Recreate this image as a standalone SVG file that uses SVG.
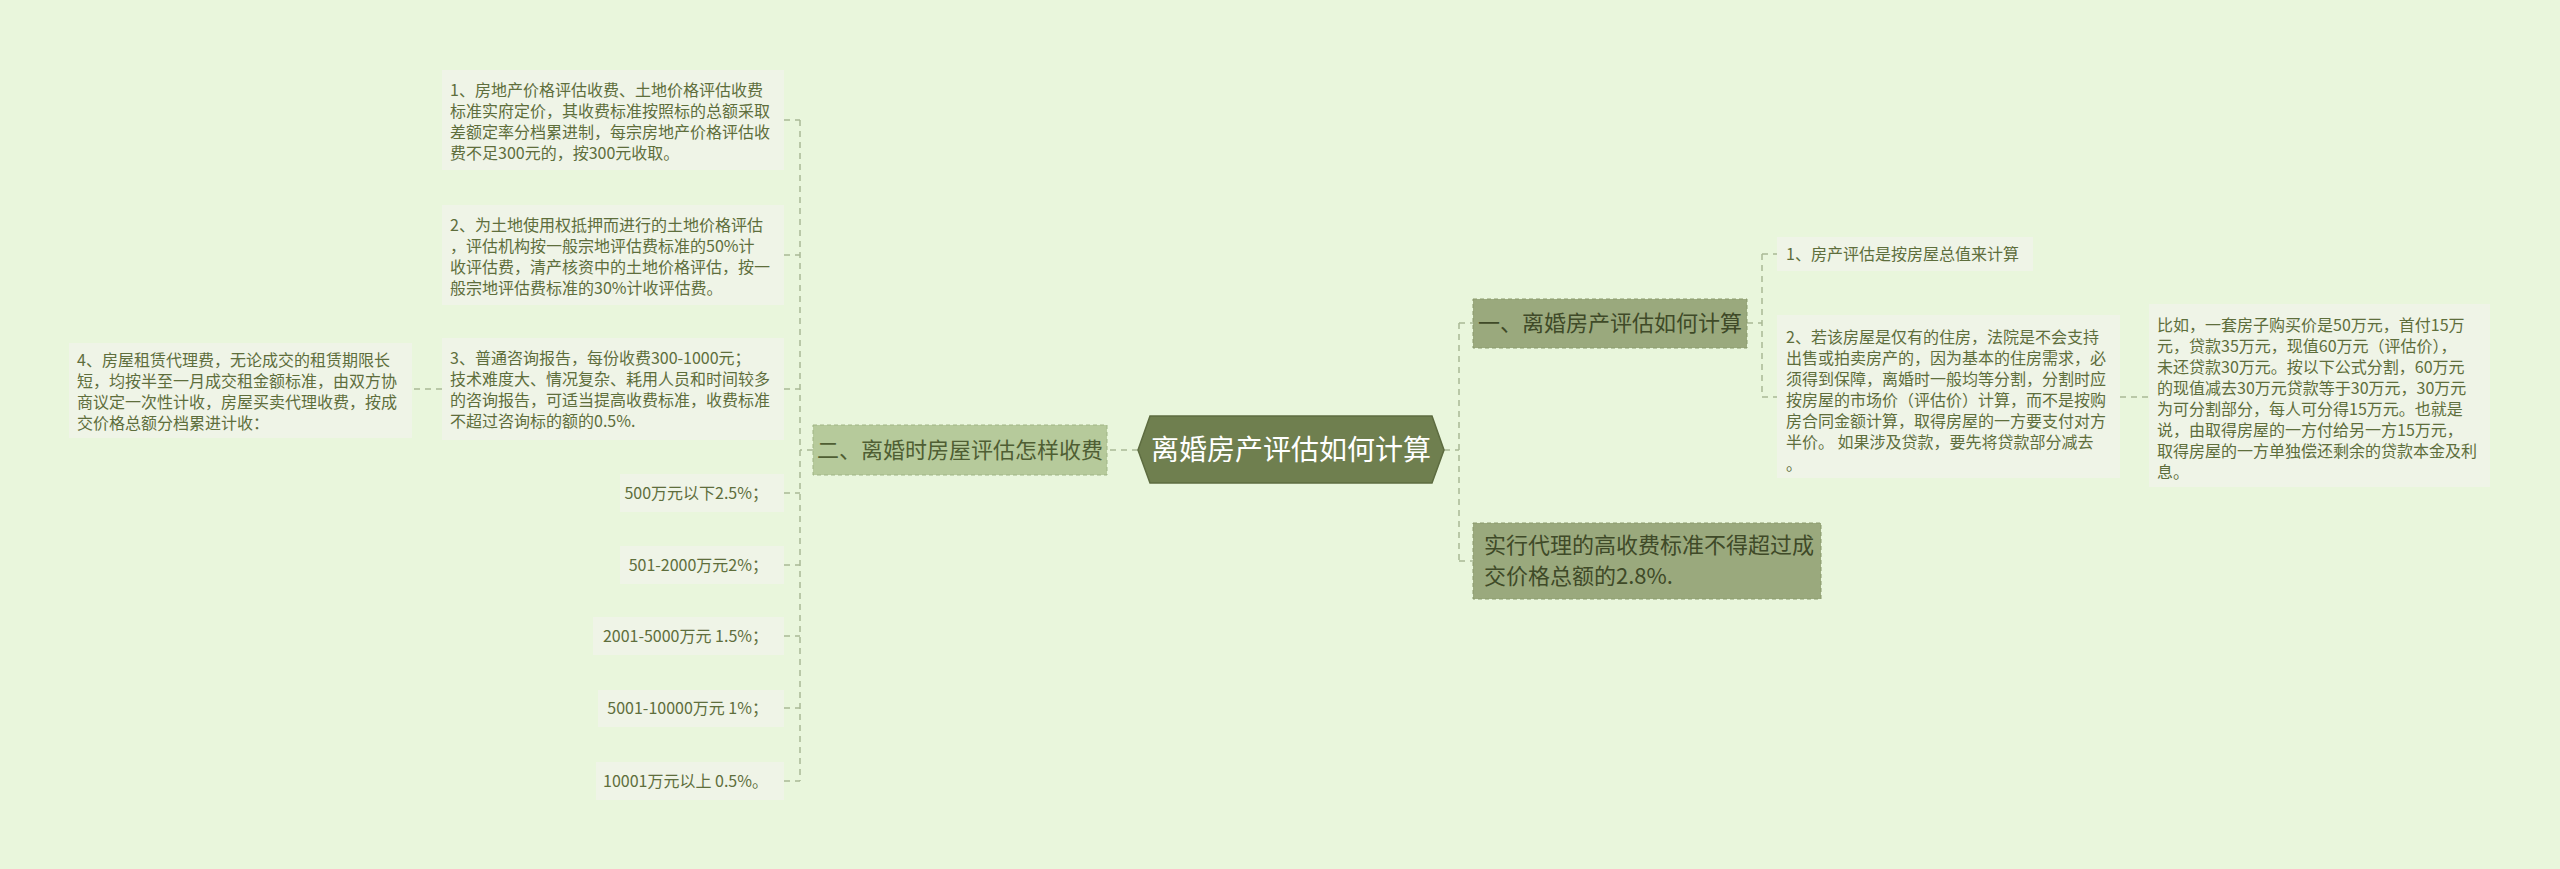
<svg xmlns="http://www.w3.org/2000/svg" width="2560" height="869" viewBox="0 0 2560 869">
<style>
text{font-family:"Noto Sans CJK SC","Liberation Sans",sans-serif}
.leaf{fill:#eff4e7}
.lt{font-size:16px;fill:#5e6e3c}
.conn{fill:none;stroke:#a9b995;stroke-width:1.5;stroke-dasharray:6 5}
</style>
<rect width="2560" height="869" fill="#e9f6dc"/>
<g id="connectors" class="conn">
<path d="M1138 450 H1107"/>
<path d="M813 450 H800 M800 120 V781 M784 120 H800 M784 255 H800 M784 389 H800 M784 493 H800 M784 565 H800 M784 636 H800 M784 708 H800 M784 781 H800"/>
<path d="M442 389 H412"/>
<path d="M1444 450 H1459 M1459 323 V561 M1459 323 H1473 M1459 561 H1473"/>
<path d="M1747 323 H1762 M1762 254 V397 M1762 254 H1777 M1762 397 H1777"/>
<path d="M2120 397 H2149"/>
</g>
<g id="center">
<polygon points="1150,416 1432,416 1444,450 1432,483 1150,483 1138,450" fill="#6f7f4f" stroke="#5d6c40" stroke-width="1.5"/>
<text x="1291" y="460" font-size="28" fill="#ffffff" text-anchor="middle">离婚房产评估如何计算</text>
</g>
<g id="n2">
<rect x="813" y="425" width="294" height="50" fill="#b6ca9b" stroke="#a0b585" stroke-dasharray="4 3"/>
<text x="960" y="458" font-size="22" fill="#4f5e33" text-anchor="middle">二、离婚时房屋评估怎样收费</text>
</g>
<g id="n1">
<rect x="1473" y="299" width="274" height="49" fill="#9aa97d" stroke="#8a9a6c" stroke-dasharray="4 3"/>
<text x="1610" y="331" font-size="22" fill="#3f4a28" text-anchor="middle">一、离婚房产评估如何计算</text>
</g>
<g id="n3">
<rect x="1473" y="523" width="348" height="76" fill="#9aa97d" stroke="#8a9a6c" stroke-dasharray="4 3"/>
<text font-size="22" fill="#3f4a28"><tspan x="1484" y="553">实行代理的高收费标准不得超过成</tspan><tspan x="1484" y="584">交价格总额的2.8%.</tspan></text>
</g>
<g id="r1"><rect class="leaf" x="1777" y="237" width="256" height="34"/>
<text class="lt" x="1786" y="260">1、房产评估是按房屋总值来计算</text></g>
<g id="r2"><rect class="leaf" x="1777" y="315" width="343" height="163"/>
<text class="lt"><tspan x="1786" y="343">2、若该房屋是仅有的住房，法院是不会支持</tspan><tspan x="1786" y="364">出售或拍卖房产的，因为基本的住房需求，必</tspan><tspan x="1786" y="385">须得到保障，离婚时一般均等分割，分割时应</tspan><tspan x="1786" y="406">按房屋的市场价（评估价）计算，而不是按购</tspan><tspan x="1786" y="427">房合同金额计算，取得房屋的一方要支付对方</tspan><tspan x="1786" y="448">半价。 如果涉及贷款，要先将贷款部分减去</tspan><tspan x="1786" y="470">。</tspan></text></g>
<g id="r3"><rect class="leaf" x="2149" y="304" width="341" height="183"/>
<text class="lt"><tspan x="2157" y="331">比如，一套房子购买价是50万元，首付15万</tspan><tspan x="2157" y="352">元，贷款35万元，现值60万元（评估价），</tspan><tspan x="2157" y="373">未还贷款30万元。按以下公式分割，60万元</tspan><tspan x="2157" y="394">的现值减去30万元贷款等于30万元，30万元</tspan><tspan x="2157" y="415">为可分割部分，每人可分得15万元。也就是</tspan><tspan x="2157" y="436">说，由取得房屋的一方付给另一方15万元，</tspan><tspan x="2157" y="457">取得房屋的一方单独偿还剩余的贷款本金及利</tspan><tspan x="2157" y="478">息。</tspan></text></g>
<g id="l1"><rect class="leaf" x="442" y="70" width="342" height="100"/>
<text class="lt"><tspan x="450" y="96">1、房地产价格评估收费、土地价格评估收费</tspan><tspan x="450" y="117">标准实府定价，其收费标准按照标的总额采取</tspan><tspan x="450" y="138">差额定率分档累进制，每宗房地产价格评估收</tspan><tspan x="450" y="159">费不足300元的，按300元收取。</tspan></text></g>
<g id="l2"><rect class="leaf" x="442" y="205" width="342" height="100"/>
<text class="lt"><tspan x="450" y="231">2、为土地使用权抵押而进行的土地价格评估</tspan><tspan x="450" y="252">，评估机构按一般宗地评估费标准的50%计</tspan><tspan x="450" y="273">收评估费，清产核资中的土地价格评估，按一</tspan><tspan x="450" y="294">般宗地评估费标准的30%计收评估费。</tspan></text></g>
<g id="l3"><rect class="leaf" x="442" y="338" width="342" height="102"/>
<text class="lt"><tspan x="450" y="364">3、普通咨询报告，每份收费300-1000元；</tspan><tspan x="450" y="385">技术难度大、情况复杂、耗用人员和时间较多</tspan><tspan x="450" y="406">的咨询报告，可适当提高收费标准，收费标准</tspan><tspan x="450" y="427">不超过咨询标的额的0.5%.</tspan></text></g>
<g id="l4"><rect class="leaf" x="69" y="343" width="343" height="95"/>
<text class="lt"><tspan x="77" y="366">4、房屋租赁代理费，无论成交的租赁期限长</tspan><tspan x="77" y="387">短，均按半至一月成交租金额标准，由双方协</tspan><tspan x="77" y="408">商议定一次性计收，房屋买卖代理收费，按成</tspan><tspan x="77" y="429">交价格总额分档累进计收：</tspan></text></g>
<g id="s1"><rect class="leaf" x="620" y="474" width="164" height="38"/><text class="lt" x="768" y="499" text-anchor="end">500万元以下2.5%；</text></g>
<g id="s2"><rect class="leaf" x="620" y="546" width="164" height="38"/><text class="lt" x="768" y="571" text-anchor="end">501-2000万元2%；</text></g>
<g id="s3"><rect class="leaf" x="593" y="617" width="191" height="38"/><text class="lt" x="768" y="642" text-anchor="end">2001-5000万元 1.5%；</text></g>
<g id="s4"><rect class="leaf" x="598" y="690" width="186" height="37"/><text class="lt" x="768" y="714" text-anchor="end">5001-10000万元 1%；</text></g>
<g id="s5"><rect class="leaf" x="596" y="762" width="188" height="38"/><text class="lt" x="768" y="787" text-anchor="end">10001万元以上 0.5%。</text></g>
</svg>
